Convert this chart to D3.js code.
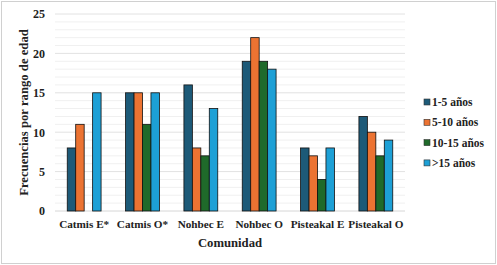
<!DOCTYPE html>
<html>
<head>
<meta charset="utf-8">
<script src="https://cdn.jsdelivr.net/npm/d3@7"></script>
<style>
    body { margin: 0; background: #fff; }
    svg text { font-family: "Liberation Serif", "Times New Roman", Times, "DejaVu Serif", serif !important; font-weight: bold; }
</style>
</head>
<body>
<svg id="chart" width="497" height="265"></svg>
<script>
// Donnees
const communities = ["Catmis E*", "Catmis O*", "Nohbec E", "Nohbec O", "Pisteakal E", "Pisteakal O"];
const ageRanges = ["1-5 años", "5-10 años", "10-15 años", ">15 años"];
const rangeColors = ["#1d5a78", "#ec7332", "#1f6a2a", "#1da0d6"];
const age1to5 = [8, 15, 16, 19, 8, 12];
const age5to10 = [11, 15, 8, 22, 7, 10];
const age10to15 = [0, 11, 7, 19, 4, 7];
const ageOver15 = [15, 15, 13, 18, 8, 9];
const yTicks = [0, 5, 10, 15, 20, 25];

const seriesValues = [age1to5, age5to10, age10to15, ageOver15];

const svg = d3.select("#chart");
const margin = { left: 55, right: 92, top: 14, bottom: 54 };
const width = 497;
const height = 265;

// Cadre
svg.append("rect")
    .attr("x", 1.5).attr("y", 1.5)
    .attr("width", width - 3).attr("height", height - 3)
    .attr("fill", "#fff")
    .attr("stroke", "#d0d0d0");

const xScale = d3.scaleBand()
    .domain(communities)
    .range([margin.left, width - margin.right])
    .paddingInner(0.42)
    .paddingOuter(0.21);

const innerScale = d3.scaleBand()
    .domain(ageRanges)
    .range([0, xScale.bandwidth()]);

const yScale = d3.scaleLinear()
    .domain([0, 25])
    .range([height - margin.bottom, margin.top]);

// Grille
svg.append("g")
    .selectAll("line")
    .data(d3.range(1, 26).filter(function(v) { return v % 5 !== 0; }))
    .enter()
    .append("line")
    .attr("x1", margin.left).attr("x2", width - margin.right)
    .attr("y1", function(v) { return yScale(v); })
    .attr("y2", function(v) { return yScale(v); })
    .attr("stroke", "#f0f0f0")
    .attr("stroke-width", 1);

svg.append("g")
    .selectAll("line")
    .data(yTicks)
    .enter()
    .append("line")
    .attr("x1", margin.left).attr("x2", width - margin.right)
    .attr("y1", function(v) { return yScale(v); })
    .attr("y2", function(v) { return yScale(v); })
    .attr("stroke", function(v) { return v === 0 ? "#d6d6d6" : "#e2e2e2"; })
    .attr("stroke-width", 1);

// Barres
const groups = svg.append("g")
    .selectAll("g")
    .data(communities)
    .enter()
    .append("g")
    .attr("transform", function(c) { return "translate(" + xScale(c) + ",0)"; });

groups.each(function(community, ci) {
    const group = d3.select(this);
    ageRanges.forEach(function(range, si) {
        const value = seriesValues[si][ci];
        if (!value) {
            return;
        }
        group.append("rect")
            .attr("x", innerScale(range))
            .attr("y", yScale(value))
            .attr("width", innerScale.bandwidth())
            .attr("height", yScale(0) - yScale(value))
            .attr("fill", rangeColors[si])
            .attr("stroke", "#111")
            .attr("stroke-width", 0.8);
    });
});

// Axes
const yAxis = svg.append("g")
    .attr("transform", "translate(" + (margin.left - 10) + ",0)")
    .call(d3.axisLeft(yScale).tickValues(yTicks).tickSize(0).tickPadding(0));
yAxis.select(".domain").remove();
yAxis.selectAll("text")
    .attr("font-size", 12)
    .attr("fill", "#222");

const xAxis = svg.append("g")
    .attr("transform", "translate(0," + yScale(0) + ")")
    .call(d3.axisBottom(xScale).tickSize(0).tickPadding(9));
xAxis.select(".domain").remove();
xAxis.selectAll("text")
    .attr("font-size", 11.2)
    .attr("fill", "#222");

svg.append("text")
    .attr("x", (margin.left + width - margin.right) / 2)
    .attr("y", 247)
    .attr("text-anchor", "middle")
    .attr("font-size", 12.7)
    .attr("fill", "#222")
    .text("Comunidad");

svg.append("text")
    .attr("transform", "rotate(-90)")
    .attr("x", -(margin.top + yScale(0)) / 2)
    .attr("y", 27.5)
    .attr("text-anchor", "middle")
    .attr("font-size", 12.7)
    .attr("fill", "#222")
    .text("Frecuencias por rango de edad");

// Legende
const legend = svg.append("g")
    .attr("transform", "translate(424, 97)");

ageRanges.forEach(function(range, index) {
    const item = legend.append("g")
        .attr("transform", "translate(0," + (index * 20.3) + ")");

    item.append("rect")
        .attr("width", 6).attr("height", 6)
        .attr("y", 2)
        .attr("fill", rangeColors[index])
        .attr("stroke", "#333")
        .attr("stroke-width", 0.6);

    item.append("text")
        .attr("x", 8)
        .attr("y", 9)
        .attr("font-size", 11.5)
        .attr("fill", "#222")
        .text(range);
});
</script>
</body>
</html>
